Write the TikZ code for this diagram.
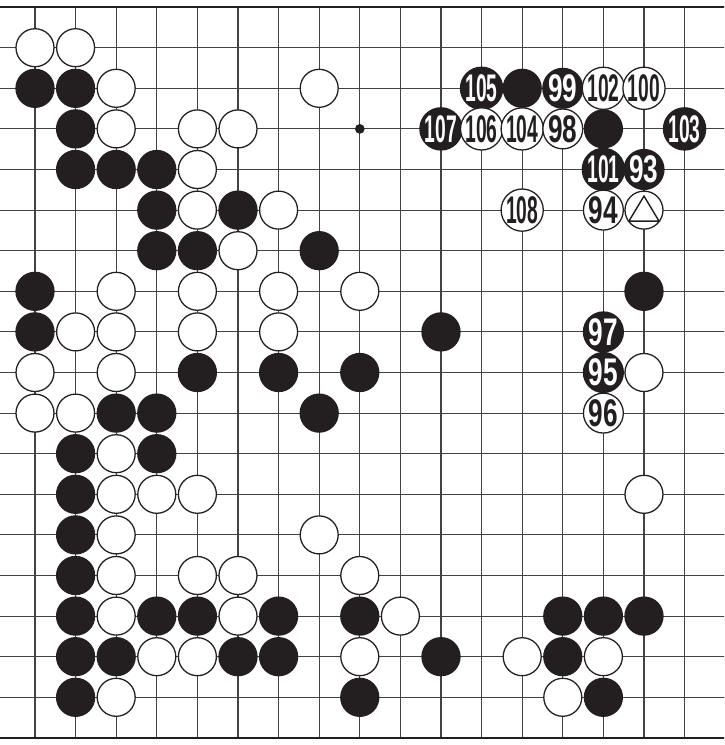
\documentclass[tikz,border=0pt]{standalone}
\usepackage{fontspec}
\usepackage{graphicx}
\newfontfamily\stonefont{Liberation Sans}
\definecolor{ink}{RGB}{35,31,32}
\tikzset{
  gridline/.style={draw=ink!85,line width=0.38pt},
  edgeline/.style={draw=ink,line width=0.8pt},
  bstone/.style={circle,fill=ink,draw=ink,line width=0.45pt,inner sep=0pt,
    minimum size=0.468cm,text=white},
  wstone/.style={circle,fill=white,draw=ink,line width=0.45pt,inner sep=0pt,
    minimum size=0.468cm,text=ink},
  movenum/.style={font=\stonefont\bfseries\fontsize{13.5}{14}\selectfont},
  hoshi/.style={circle,fill=ink,inner sep=0pt,minimum size=0.12cm},
  marktri/.style={draw=ink,line width=0.5pt,line join=miter},
}
\newcommand\mvnum[1]{\ifnum#1>99 \scalebox{0.5}[1]{#1}\else\scalebox{0.68}[1]{#1}\fi}

\begin{document}
\begin{tikzpicture}[x=0.5cm,y=0.5cm]
  \useasboundingbox (-0.862,1.175) rectangle (16.971,-17.175);
  \clip (-0.862,1.175) rectangle (16.971,-17.175);
  % board
  \foreach \c in {0,...,16} \draw[gridline] (\c,1) -- (\c,-17);
  \foreach \r in {0,...,16} \draw[gridline] (-1,-\r) -- (17,-\r);
  \draw[edgeline] (-1,1) -- (17,1);
  \draw[edgeline] (-1,-17) -- (17,-17);
  \node[hoshi] (star) at (8,-2) {};
  % stones already on the board
  \foreach \c/\r in {0/1,1/1,12/1,1/2,14/2,1/3,2/3,3/3,3/4,5/4,3/5,4/5,7/5,
      0/6,15/6,0/7,10/7,4/8,6/8,8/8,2/9,3/9,7/9,1/10,3/10,1/11,1/12,1/13,
      1/14,3/14,4/14,6/14,8/14,13/14,14/14,15/14,
      1/15,2/15,5/15,6/15,10/15,13/15,1/16,8/16,14/16}
    \node[bstone] (b\c-\r) at (\c,-\r) {};
  \foreach \c/\r in {0/0,1/0,2/1,7/1,2/2,4/2,5/2,4/3,4/4,6/4,5/5,
      2/6,4/6,6/6,8/6,1/7,2/7,4/7,6/7,0/8,2/8,15/8,0/9,1/9,2/10,
      2/11,3/11,4/11,15/11,2/12,7/12,2/13,4/13,5/13,8/13,
      2/14,5/14,9/14,3/15,4/15,8/15,12/15,14/15,2/16,13/16}
    \node[wstone] (w\c-\r) at (\c,-\r) {};
  % numbered moves
  \foreach \n/\c/\r in {105/11/1,99/13/1,107/10/2,103/16/2,101/14/3,93/15/3,
      97/14/7,95/14/8}
    \node[bstone,movenum] (m\n) at (\c,-\r) {\mvnum{\n}};
  \foreach \n/\c/\r in {102/14/1,100/15/1,106/11/2,104/12/2,98/13/2,
      108/12/4,94/14/4,96/14/9}
    \node[wstone,movenum] (m\n) at (\c,-\r) {\mvnum{\n}};
  \node[wstone] (tri) at (15,-4) {};
  \draw[marktri] (tri.center) +(0,0.345) -- +(-0.37,-0.27) -- +(0.37,-0.27) -- cycle;
\end{tikzpicture}
\end{document}
